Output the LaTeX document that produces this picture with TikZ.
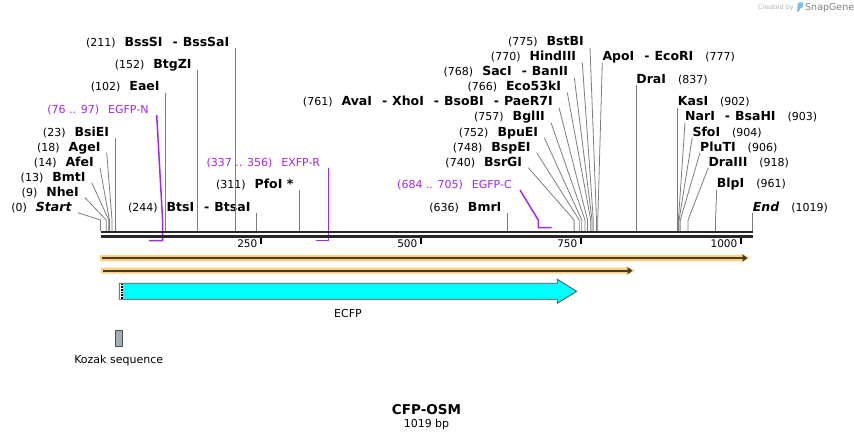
\documentclass[tikz,border=0pt]{standalone}
\usepackage{fontspec}
\setmainfont{DejaVu Sans}
\usetikzlibrary{arrows.meta,positioning}
\definecolor{cutgray}{RGB}{125,125,125}
\definecolor{primerviolet}{RGB}{160,40,240}
\definecolor{backbone}{RGB}{40,40,40}
\definecolor{halo}{RGB}{253,208,128}
\definecolor{featdark}{RGB}{75,60,42}
\definecolor{ecfpcyan}{RGB}{0,255,255}
\definecolor{ecfpedge}{RGB}{70,85,85}
\definecolor{kozakgray}{RGB}{168,172,180}
\definecolor{sglogo}{RGB}{120,190,235}
\newcommand{\enz}[1]{{\fontsize{12.5}{14}\selectfont\bfseries #1}}
\newcommand{\cutsep}{\hspace{10pt}-\hspace{5pt}}

\begin{document}
\begin{tikzpicture}[x=1pt, y=-1pt,
        lsite/.style={anchor=south east, inner xsep=6pt, inner ysep=0pt, text height=9pt, text depth=1.5pt, font=\fontsize{11}{13}\selectfont},
        rsite/.style={lsite, anchor=south west, inner xsep=0pt},
        psite/.style={lsite, inner xsep=8pt, text=primerviolet},
        cut/.style={draw=cutgray, line width=0.8pt},
        primer/.style={draw=primerviolet, line width=1.5pt},
        tick/.style={draw=black, line width=2pt},
        ticklbl/.style={anchor=base east, inner sep=0pt, font=\fontsize{10.5}{12}\selectfont},
        feature/.style={fill=ecfpcyan, draw=ecfpedge, line width=0.8pt},
        featline/.style={draw=featdark, line width=2pt, -{Triangle[length=5pt,width=7pt]}},
        plain/.style={font=\fontsize{11}{13}\selectfont}]

    \useasboundingbox (0,0) rectangle (854,441);

    % positions on the backbone
    \foreach \p in {0,9,13,14,18,23,102,152,211,244,311,636,740,748,752,757,761,766,768,770,775,777,837,902,903,904,906,918,961,1019}
        \coordinate (s\p) at ({100.5+0.64*\p},231);
    \coordinate (kink) at (0,220);
    \coordinate (pn1) at ({100.5+0.64*76},240.7);
    \coordinate (pn2) at ({100.5+0.64*97},240.7);
    \coordinate (pr1) at ({100.5+0.64*337},240.7);
    \coordinate (pr2) at ({100.5+0.64*356},240.7);
    \coordinate (pc1) at ({100.5+0.64*684},227.7);
    \coordinate (pc2) at ({100.5+0.64*705},227.7);

    % left group
    \node[lsite] (start) at (77.7,212.7) {(0)\hspace{9pt}\enz{\itshape Start}};
    \node[lsite] (nhei) at (85,197.7) {(9)\hspace{9pt}\enz{NheI}};
    \node[lsite] (bmti) at (91.7,182.7) {(13)\hspace{9pt}\enz{BmtI}};
    \node[lsite] (afei) at (100,167.7) {(14)\hspace{9pt}\enz{AfeI}};
    \node[lsite] (agei) at (106.7,152.7) {(18)\hspace{9pt}\enz{AgeI}};
    \node[lsite] (bsiei) at (s23 |- 0,137.7) {(23)\hspace{9pt}\enz{BsiEI}};
    \node[psite] (egfpn) at (156.7,115) {(76 .. 97)\hspace{9pt}EGFP-N};
    \node[lsite] (eaei) at (s102 |- 0,92.7) {(102)\hspace{9pt}\enz{EaeI}};
    \node[lsite] (btgzi) at (s152 |- 0,70) {(152)\hspace{9pt}\enz{BtgZI}};
    \node[lsite] (bsssi) at (s211 |- 0,48.3) {(211)\hspace{9pt}\enz{BssSI\cutsep BssSaI}};
    \node[lsite] (btsi) at (s244 |- 0,212.7) {(244)\hspace{9pt}\enz{BtsI\cutsep BtsaI}};
    \node[lsite] (pfoi) at (s311 |- 0,190) {(311)\hspace{9pt}\enz{PfoI *}};
    \node[psite] (exfpr) at (pr2 |- 0,168.3) {(337 .. 356)\hspace{9pt}EXFP-R};

    % middle and right group
    \node[lsite] (bmri) at (s636 |- 0,212.7) {(636)\hspace{9pt}\enz{BmrI}};
    \node[psite] (egfpc) at (520,190) {(684 .. 705)\hspace{9pt}EGFP-C};
    \node[lsite] (bsrgi) at (528.3,167.7) {(740)\hspace{9pt}\enz{BsrGI}};
    \node[lsite] (bspei) at (536.7,152.7) {(748)\hspace{9pt}\enz{BspEI}};
    \node[lsite] (bpuei) at (544.3,137.7) {(752)\hspace{9pt}\enz{BpuEI}};
    \node[lsite] (bglii) at (551,122.7) {(757)\hspace{9pt}\enz{BglII}};
    \node[lsite] (avai) at (559,107.7) {(761)\hspace{9pt}\enz{AvaI\cutsep XhoI\cutsep BsoBI\cutsep PaeR7I}};
    \node[lsite] (eco53ki) at (567.3,92.7) {(766)\hspace{9pt}\enz{Eco53kI}};
    \node[lsite] (saci) at (574.3,77.7) {(768)\hspace{9pt}\enz{SacI\cutsep BanII}};
    \node[lsite] (hindiii) at (582.3,62.7) {(770)\hspace{9pt}\enz{HindIII}};
    \node[lsite] (bstbi) at (590,47.7) {(775)\hspace{9pt}\enz{BstBI}};
    \node[rsite] (apoi) at (602.3,62.7) {\enz{ApoI\cutsep EcoRI}\hspace{12pt}(777)};
    \node[rsite] (drai) at (s837 |- 0,85) {\enz{DraI}\hspace{12pt}(837)};
    \node[rsite] (kasi) at (s902 |- 0,107.7) {\enz{KasI}\hspace{12pt}(902)};
    \node[rsite] (nari) at (685,122.7) {\enz{NarI\cutsep BsaHI}\hspace{12pt}(903)};
    \node[rsite] (sfoi) at (692.3,137.7) {\enz{SfoI}\hspace{12pt}(904)};
    \node[rsite] (pluti) at (700,152.7) {\enz{PluTI}\hspace{12pt}(906)};
    \node[rsite] (draiii) at (708.3,167.7) {\enz{DraIII}\hspace{12pt}(918)};
    \node[rsite] (blpi) at (716.7,189.3) {\enz{BlpI}\hspace{12pt}(961)};
    \node[rsite] (endsite) at (s1019 |- 0,212.7) {\enz{\itshape End}\hspace{12pt}(1019)};

    % cut site leaders
    \draw[cut] (start.south east) -- (s0 |- kink) -- (s0);
    \draw[cut] (nhei.south east) -- (s9 |- kink) -- (s9);
    \draw[cut] (bmti.south east) -- (s13 |- kink) -- (s13);
    \draw[cut] (afei.south east) -- (s14 |- kink) -- (s14);
    \draw[cut] (agei.south east) -- (s18 |- kink) -- (s18);
    \draw[cut] (bsiei.south east) -- (s23);
    \draw[cut] (eaei.south east) -- (s102);
    \draw[cut] (btgzi.south east) -- (s152);
    \draw[cut] (bsssi.south east) -- (s211);
    \draw[cut] (btsi.south east) -- (s244);
    \draw[cut] (pfoi.south east) -- (s311);
    \draw[cut] (bmri.south east) -- (s636);
    \draw[cut] (bsrgi.south east) -- (s740 |- kink) -- (s740);
    \draw[cut] (bspei.south east) -- (s748 |- kink) -- (s748);
    \draw[cut] (bpuei.south east) -- (s752 |- kink) -- (s752);
    \draw[cut] (bglii.south east) -- (s757 |- kink) -- (s757);
    \draw[cut] (avai.south east) -- (s761 |- kink) -- (s761);
    \draw[cut] (eco53ki.south east) -- (s766 |- kink) -- (s766);
    \draw[cut] (saci.south east) -- (s768 |- kink) -- (s768);
    \draw[cut] (hindiii.south east) -- (s770 |- kink) -- (s770);
    \draw[cut] (bstbi.south east) -- (s775 |- kink) -- (s775);
    \draw[cut] (apoi.south west) -- (s777 |- kink) -- (s777);
    \draw[cut] (drai.south west) -- (s837);
    \draw[cut] (kasi.south west) -- (s902);
    \draw[cut] (nari.south west) -- (s903 |- kink) -- (s903);
    \draw[cut] (sfoi.south west) -- (s904 |- kink) -- (s904);
    \draw[cut] (pluti.south west) -- (s906 |- kink) -- (s906);
    \draw[cut] (draiii.south west) -- (s918 |- kink) -- (s918);
    \draw[cut] (blpi.south west) -- (s961 |- kink) -- (s961);
    \draw[cut] (endsite.south west) -- (s1019);

    % primers
    \draw[primer] (egfpn.south east) -- (pn2 |- kink) -- (pn2) -- (pn1);
    \draw[primer] (exfpr.south east) -- (pr2) -- (pr1);
    \draw[primer] (egfpc.south east) -- (pc1 |- kink) -- (pc1) -- (pc2);

    % backbone
    \draw[backbone, line width=2.3pt] (100.5,232) -- (752.7,232);
    \draw[backbone, line width=2.3pt] (100.5,236.6) -- (752.7,236.6);

    % ruler
    \node[ticklbl] (t250) at (257.5,247.7) {250};
    \node[ticklbl] (t500) at (417.5,247.7) {500};
    \node[ticklbl] (t750) at (577.5,247.7) {750};
    \node[ticklbl] (t1000) at (737.5,247.7) {1000};
    \draw[tick] (260.5,238.3) -- (260.5,244.3);
    \draw[tick] (420.5,238.3) -- (420.5,244.3);
    \draw[tick] (580.5,238.3) -- (580.5,244.3);
    \draw[tick] (740.5,238.3) -- (740.5,244.3);

    % features
    \fill[halo] (100,255) -- (741,255) -- (741,253.5) -- (750,258) -- (741,262.5) -- (741,261) -- (100,261) -- cycle;
    \draw[featline] (102,258) -- (747.5,258);
    \fill[halo] (101,267.7) -- (626,267.7) -- (626,266.2) -- (635,270.7) -- (626,275.2) -- (626,273.7) -- (101,273.7) -- cycle;
    \draw[featline] (103,270.7) -- (632.5,270.7);

    \draw[feature] (119.3,283.3) -- (557.3,283.3) -- (557.3,279.3) -- (576.7,291.3) -- (557.3,303.3) -- (557.3,299.3) -- (119.3,299.3) -- cycle;
    \fill[white] (119.8,283.8) rectangle (123,298.8);
    \draw[densely dotted, line width=0.6pt] (121,284) -- (121,299);
    \draw[densely dotted, line width=0.6pt] (122.6,284) -- (122.6,299);
    \node[plain, anchor=base] (ecfp) at (348,317) {ECFP};

    \node[draw=ecfpedge, fill=kozakgray, line width=0.8pt, minimum width=7.5pt, minimum height=16.5pt, inner sep=0pt] (kozak) at (118.7,338.3) {};
    \node[plain, below=5pt of kozak] (kozaklbl) {Kozak sequence};

    % title
    \node[font=\fontsize{13.5}{16}\selectfont\bfseries] (title) at (426.5,410) {CFP-OSM};
    \node[plain] (length) at (426.5,424) {1019 bp};

    % watermark
    \node[anchor=east, inner sep=0pt, text=black!30, font=\fontsize{6.5}{8}\selectfont] (created) at (794,7.5) {Created by};
    \fill[sglogo, rounded corners=1pt] (798,2.5) -- (803.5,2.5) -- (802.5,8) -- (800,8) -- (799,12) -- (797,12) -- cycle;
    \node[anchor=west, inner sep=0pt, text=black!50, font=\fontsize{9.5}{11}\selectfont] (snapgene) at (805,7.5) {SnapGene};
\end{tikzpicture}
\end{document}
